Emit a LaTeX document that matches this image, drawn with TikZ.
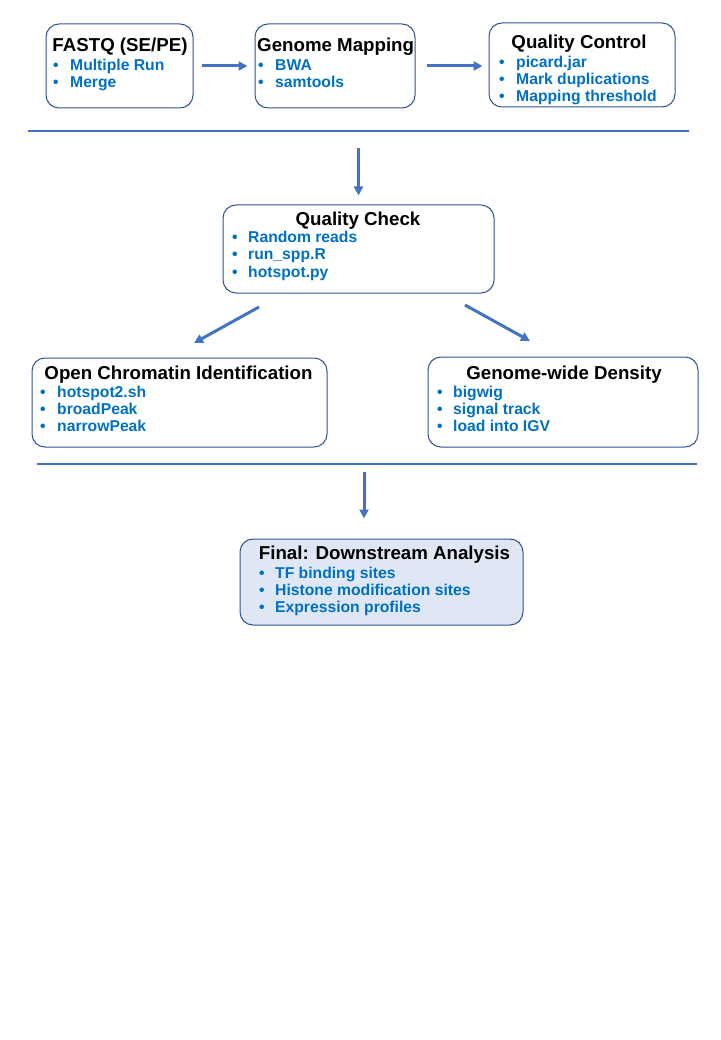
\documentclass[tikz,border=0pt]{standalone}
\usepackage{fontspec}
\setmainfont{Liberation Sans}
\usetikzlibrary{arrows.meta,positioning}
\definecolor{boxline}{HTML}{2F528F}
\definecolor{arrowblue}{HTML}{4472C4}
\definecolor{itemblue}{HTML}{0070C0}
\definecolor{finalfill}{HTML}{DEE7F3}

\begin{document}
\begin{tikzpicture}[x=1pt,y=-1pt,
  box/.style={draw=boxline,line width=1pt,rounded corners=13pt,inner sep=0pt},
  ttl/.style={anchor=base,inner sep=0pt,font=\fontsize{18.7}{20}\selectfont\bfseries},
  item/.style={anchor=base west,inner sep=0pt,text=itemblue,font=\fontsize{15.7}{17}\selectfont\bfseries},
  arr/.style={draw=arrowblue,line width=3pt,-{Triangle[length=9pt,width=9pt]}},
  sepline/.style={draw=arrowblue,line width=1.5pt}]
\useasboundingbox (0,0) rectangle (720,1040);

% first row
\node (fastq) [box,minimum width=147pt,minimum height=84pt] at (119.5,66) {};
\node (map) [box,minimum width=160pt,minimum height=84pt] at (335,66) {};
\node (qc) [box,minimum width=186pt,minimum height=84pt] at (582,65) {};
\node (fastqT) [ttl] at (120,52) {FASTQ (SE/PE)};
\node (mapT) [ttl,anchor=base west] at (257,52) {Genome Mapping};
\node (qcT) [ttl] at (579,49) {Quality Control};
\node (fastq1) [item] at (53,71) {\makebox[17pt][l]{•}Multiple Run};
\node (fastq2) [item] at (53,88) {\makebox[17pt][l]{•}Merge};
\node (map1) [item] at (258,71) {\makebox[17pt][l]{•}BWA};
\node (map2) [item] at (258,88) {\makebox[17pt][l]{•}samtools};
\node (qc1) [item] at (499,68) {\makebox[17pt][l]{•}picard.jar};
\node (qc2) [item] at (499,85) {\makebox[17pt][l]{•}Mark duplications};
\node (qc3) [item] at (499,102) {\makebox[17pt][l]{•}Mapping threshold};
\draw [arr,shorten <=8pt,shorten >=7pt] (fastq.east) -- (map.west |- fastq.east);
\draw [arr,shorten <=11pt,shorten >=6pt] (map.east) -- (qc.west |- map.east);

\coordinate (s1l) at (28,131);
\coordinate (s1r) at (689,131);
\draw [sepline] (s1l) -- (s1r);

% quality check
\node (check) [box,minimum width=271pt,minimum height=88pt] at (358.5,249) {};
\node (checkT) [ttl] at (358,226) {Quality Check};
\node (check1) [item] at (232,243) {\makebox[16pt][l]{•}Random reads};
\node (check2) [item] at (232,260) {\makebox[16pt][l]{•}run\_spp.R};
\node (check3) [item] at (232,277) {\makebox[16pt][l]{•}hotspot.py};
\draw [arr,shorten <=17pt,shorten >=9pt] (s1l -| check.north) -- (check.north);

% second row
\node (open) [box,minimum width=295pt,minimum height=89pt] at (179.5,402.5) {};
\node (dens) [box,minimum width=270pt,minimum height=90pt] at (563,402) {};
\node (openT) [ttl] at (178.5,379) {Open Chromatin Identification};
\node (densT) [ttl] at (564,379) {Genome-wide Density};
\node (open1) [item] at (40,397) {\makebox[17pt][l]{•}hotspot2.sh};
\node (open2) [item] at (40,414) {\makebox[17pt][l]{•}broadPeak};
\node (open3) [item] at (40,431) {\makebox[17pt][l]{•}narrowPeak};
\node (dens1) [item] at (437,397) {\makebox[16pt][l]{•}bigwig};
\node (dens2) [item] at (437,414) {\makebox[16pt][l]{•}signal track};
\node (dens3) [item] at (437,431) {\makebox[16pt][l]{•}load into IGV};
\coordinate (checkL) at (259,307);
\coordinate (openE) at (194,343);
\coordinate (checkR) at (465,305);
\coordinate (densE) at (530,341);
\draw [arr] (checkL) -- (openE);
\draw [arr] (checkR) -- (densE);

\coordinate (s2l) at (37,464);
\coordinate (s2r) at (697,464);
\draw [sepline] (s2l) -- (s2r);

% final
\node (final) [box,fill=finalfill,minimum width=283pt,minimum height=86pt] at (381.5,582) {};
\node (finalT) [ttl] at (384.5,559) {Final: Downstream Analysis};
\node (final1) [item] at (259,578) {\makebox[16pt][l]{•}TF binding sites};
\node (final2) [item] at (259,595) {\makebox[16pt][l]{•}Histone modification sites};
\node (final3) [item] at (259,612) {\makebox[16pt][l]{•}Expression profiles};
\coordinate (s2a) at (364,464);
\draw [arr,shorten <=8pt,shorten >=20pt] (s2a) -- (s2a |- final.north);
\end{tikzpicture}
\end{document}
